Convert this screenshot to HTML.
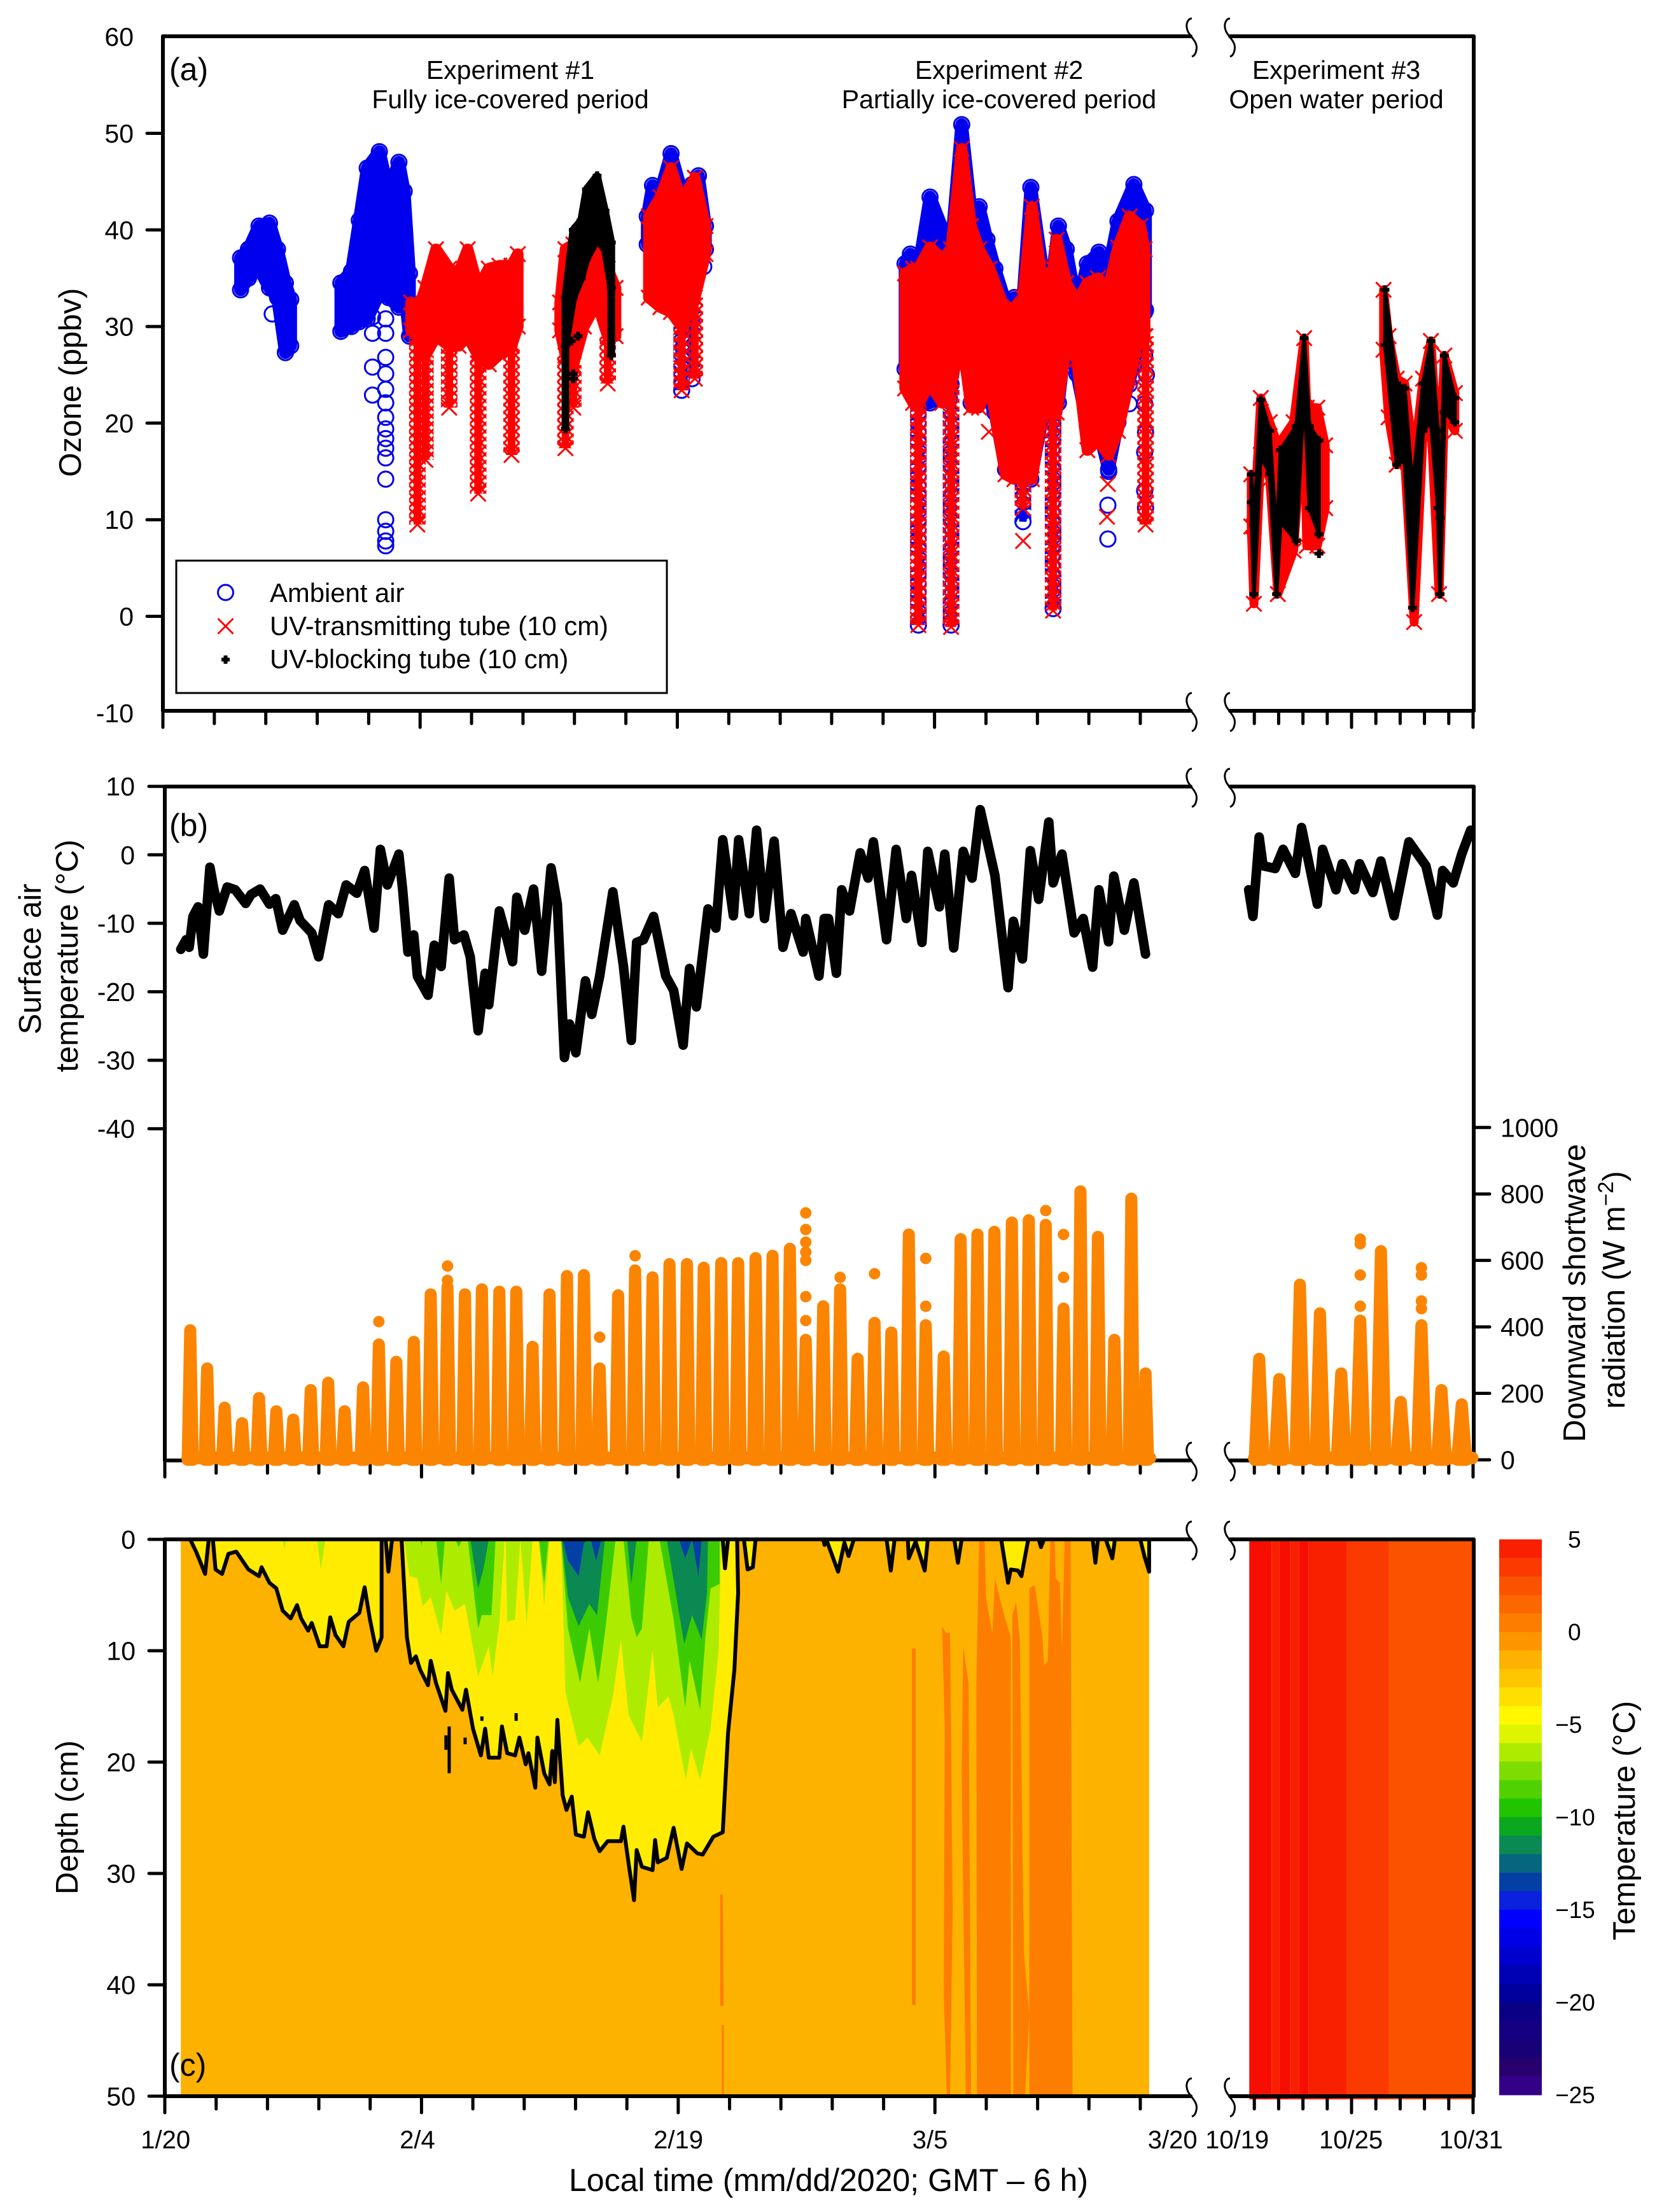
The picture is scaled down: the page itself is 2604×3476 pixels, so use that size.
<!DOCTYPE html>
<html lang="en">
<head>
<meta charset="utf-8">
<title>Ozone, air temperature, radiation and snow temperature</title>
<style>
  html,body{margin:0;padding:0;background:#fff;}
  svg{display:block;font-family:"Liberation Sans",Arial,sans-serif;}
  text{fill:#000;}
</style>
</head>
<body>
<svg id="chart" xmlns="http://www.w3.org/2000/svg" width="2604" height="3476" viewBox="0 0 2604 3476">
  <defs>
    <pattern id="hatch-red" patternUnits="userSpaceOnUse" width="12" height="12">
      <path d="M0 0L12 12M12 0L0 12" stroke="#f00" stroke-width="3.2" fill="none"/>
    </pattern>
    <pattern id="rings-blue" patternUnits="userSpaceOnUse" width="14" height="14">
      <circle cx="7" cy="7" r="6" stroke="#0000ee" stroke-width="3" fill="none"/>
    </pattern>
    <clipPath id="clip-main"><rect x="262" y="2419" width="1560" height="878"/></clipPath>
  </defs>

  <g id="panel-a-data"></g>
  <g id="panel-b-data"></g>
  <g id="panel-c-data"></g>
  <g id="colorbar"></g>
  <g id="axes"></g>
  <g id="panel-b-radiation"></g>

  <text x="266" y="126" font-size="50">(a)</text>
  <text x="266" y="1314" font-size="50">(b)</text>
  <text x="266" y="3262" font-size="50">(c)</text>

  <g font-size="41" text-anchor="middle">
    <text x="802" y="124">Experiment #1</text>
    <text x="802" y="170">Fully ice-covered period</text>
    <text x="1570" y="124">Experiment #2</text>
    <text x="1570" y="170">Partially ice-covered period</text>
    <text x="2100" y="124">Experiment #3</text>
    <text x="2100" y="170">Open water period</text>
  </g>

  <g>
    <rect x="277" y="881" width="771" height="208" fill="#fff" stroke="#000" stroke-width="3"/>
    <circle cx="354.5" cy="931" r="12" fill="none" stroke="#0000ee" stroke-width="3"/>
    <path d="M342.5 972L366.5 996M366.5 972L342.5 996" stroke="#f00" stroke-width="3" fill="none"/>
    <path d="M348 1036.500H361M354.500 1030V1043" stroke="#000" stroke-width="6" fill="none"/>
    <text x="424" y="946" font-size="41.8">Ambient air</text>
    <text x="424" y="998" font-size="41.8">UV-transmitting tube (10 cm)</text>
    <text x="424" y="1050" font-size="41.8">UV-blocking tube (10 cm)</text>
  </g>

  <g font-size="49" text-anchor="middle">
    <text transform="translate(127 601) rotate(-90)">Ozone (ppbv)</text>
    <text transform="translate(64 1507) rotate(-90)">Surface air</text>
    <text transform="translate(122 1502) rotate(-90)">temperature (°C)</text>
    <text transform="translate(2491 2032) rotate(-90)">Downward shortwave</text>
    <text transform="translate(2553 2027) rotate(-90)">radiation (W m<tspan font-size="34" dy="-18">−2</tspan><tspan dy="18">)</tspan></text>
    <text transform="translate(122 2856) rotate(-90)">Depth (cm)</text>
    <text transform="translate(2569 2861) rotate(-90)">Temperature (°C)</text>
    <text x="1302" y="3443" font-size="50">Local time (mm/dd/2020; GMT – 6 h)</text>
  </g>
</svg>

<script>
/* ---------- Panel (a): ozone, ppbv. Winter days count from 1/20; autumn days from 10/19. ---------- */
/* main body of each series: low and high reading per day */
const ambientDays=[4.48,4.94,5.56,6.17,6.64,7.1,7.41,10.34,10.96,11.42,11.88,12.59,13.12,13.73,14.04,14.35,28.24,28.55,29.01,29.63,30.25,30.86,31.23,31.64,43.3,43.61,44.08,44.76,45.62,45.99,46.61,47.16,47.63,48.09,48.55,49.17,49.69,50.19,50.65,51.33,51.95,52.26,52.72,53.34,53.95,54.63,55.19,55.74,56.67,57.35];
const ambientLow=[33.8,35,36,34,33,27.3,28,29.5,30,30.5,30.8,33.5,33,32,34,29,38.5,38,36,34,34,35,37,38,25.6,24.1,22,22.1,23.1,24,30,22.1,22.6,22.6,21.1,15.2,15.2,16,14.2,20.6,21,22.1,29,25.1,19.7,19.2,15.2,20.1,26.1,31.7];
const ambientHigh=[37.1,38,40.4,40.7,38,34.5,32.8,34.5,35.7,41,46.4,48.1,44,47,44,35.5,41.4,44.6,44,47.9,44,44.7,45.6,40.4,36.5,37.5,36,43.4,39.5,38,50.9,41.9,42.4,39,36,32.5,33,33,44.4,36,36,40.4,38,32,36.5,37.7,36,40.9,44.7,42];
/* deep, narrow ozone-depletion columns */
const ambientColumnDays=[30.25,30.86,44.08,45.99,50.19,51.95];
const ambientColumnLow=[23.4,24.6,-0.9,-0.9,9.8,0.8];
const ambientColumnHigh=[34,35,22,24,16,21];
const ambientStrayDays=[12.96,12.96,12.96,12.96,12.96,12.96,12.96,12.96,12.96,12.96,12.96,12.96,12.96,12.96,12.96,12.96,12.19,12.19,12.19,12.19,6.33,31.54,57.3,57.3,57.4,57.3,57.35,57.3,57.3,57.35,56.4,56.4,55.1,55.2,55.15,55.15,48.2,45.9];
const ambientStrayOzone=[7.3,7.8,8.8,10,14.2,16.4,17.4,18.4,19.4,20.6,22.1,23.5,25.1,26.8,29.3,30.8,22.9,25.8,29.3,31,31.3,36.2,31.5,27,25,22,19,17,13,11.2,24,22,17.5,15,11.5,8,23.5,22.5];

const transmittingDays=[14.44,14.81,15.28,15.9,16.67,17.22,17.75,18.36,18.98,19.6,20.31,20.68,23.15,23.46,23.92,24.54,25.31,25.93,26.39,28.33,29.01,29.63,30.25,31.02,31.64,43.3,43.77,44.08,44.76,45.47,45.99,46.61,47.16,47.63,48.24,49.17,49.69,50.19,50.71,51.33,51.95,52.16,52.72,53.34,53.95,54.57,55.19,55.74,56.42,57.04,57.3];
const transmittingLow=[29.6,29,27,29,28,28,29,27,26.1,27.1,28,30,29.6,27,26,30,32.5,29,29,33,32,31.5,30,33,37.5,23.6,22.1,22,24.1,22.1,24,29,21.6,21.6,24.1,14.7,14.2,16,14.2,21.1,21,21.1,28,26.6,17.2,18.2,16.7,19.2,24.6,30,29];
const transmittingHigh=[32.5,31.5,34,38,36,35.5,38,34,36,36.3,36.3,37.5,32.5,38,38.5,36,40.4,36,34,41.4,43.4,46.4,42.9,45.4,40.4,35.5,36,36,38.2,37,38,48.4,40.4,38,36,31.5,32,33,42.4,34.5,36,39,34.5,32.5,34.5,35,34,38.2,41.4,40.4,38];
const transmittingColumnDays=[14.81,15.28,16.67,18.36,20.31,23.46,23.92,25.93,30.25,31.02,44.08,45.99,50.19,51.95,57.35];
const transmittingColumnLow=[9.5,16.2,21.6,12.7,16.7,17.4,21.6,24.1,23.4,24.6,-0.9,-1.1,11.2,0.6,9.5];
const transmittingColumnHigh=[29,27,28,27,28,27,26,29,30,33,22,24,16,21,29];
const transmittingStrayDays=[50.2,48.2,55.1,55.15];
const transmittingStrayOzone=[7.8,19.1,10.3,13.7];

const blockingDays=[23.46,23.92,24.38,24.69,25.31,25.77,26.14];
const blockingLow=[28,33,35,37,39,38,34];
const blockingHigh=[33,40,41,44.2,45.6,42,38.7];
const blockingColumnDays=[23.46,26.14];
const blockingColumnLow=[19.4,27];
const blockingColumnHigh=[28,34];
const blockingStrayDays=[23.92,23.92,23.8,24.2];
const blockingStrayOzone=[24.6,25.1,28.5,29];

const autumnTransmittingDays=[1.05,1.18,1.52,1.96,2.36,3.14,3.66,3.79,4.31,4.7,7.58,7.83,8.23,8.62,9.09,9.53,9.92,10.32,10.58,11.1];
const autumnTransmittingLow=[9.3,1.3,16.7,14.2,2.3,6.8,21.6,7.3,7.3,11.2,27.6,20.6,15.7,16.2,-0.6,18.7,20.1,2.3,21.1,19.2];
const autumnTransmittingHigh=[14.7,9.3,22.6,20.1,17.7,20.1,28.8,21.6,21.6,17.7,33.8,29,24.6,24.1,16.2,24.6,28.5,15.2,27,23.1];

const autumnBlockingDays=[1.05,1.18,1.52,1.96,2.3,2.49,3.27,3.66,3.92,4.39,7.65,8.23,8.62,9.01,9.53,9.92,10.26,10.37,10.58,11.1];
const autumnBlockingLow=[11.8,2.3,16.7,14.7,2.3,9.8,7.8,23.6,11.2,8.5,28.1,15.7,16.2,0.9,19.2,20.1,11.2,2.3,21.1,20.1];
const autumnBlockingHigh=[14.7,9.5,22.4,19.2,7.8,17.2,19.7,28.8,19.7,18.2,33.8,24.1,23.6,13.2,24.1,28.5,19.2,10.2,27,22.6];
const autumnBlockingStrayDays=[4.39];
const autumnBlockingStrayOzone=[6.5];

const ozoneTickValues=[60,50,40,30,20,10,0,-10];

/* ---------- Panel (b): surface air temperature, degC ---------- */
const airDays=[0.99,1.3,1.48,1.7,2,2.31,2.69,2.93,3.24,3.7,4.17,4.78,5.09,5.62,6.17,6.54,6.94,7.62,7.96,8.64,9.04,9.63,10.19,10.65,11.27,11.73,12.28,12.65,13.06,13.73,13.95,14.26,14.6,14.81,15.43,15.8,16.2,16.67,16.98,17.53,17.9,18.36,18.77,18.98,19.6,20.06,20.37,20.62,21.08,21.6,22.07,22.62,22.99,23.4,23.7,24.07,24.63,25,25.46,26.23,26.85,27.31,27.62,28.02,28.61,29.32,29.78,30.34,30.71,31.11,31.79,32.25,32.65,33.27,33.58,34.2,34.63,35.09,35.65,36.17,36.64,37.35,37.5,38.27,38.58,38.83,39.29,39.6,40.06,40.68,41.14,41.45,42.22,42.78,43.37,43.68,44.29,44.63,45.31,45.62,46.14,46.7,47.22,47.69,48.55,49.32,49.63,50.16,50.62,51.11,51.7,51.95,52.47,53.18,53.71,54.26,54.63,55.19,55.5,56.11,56.67,57.35];
const airTemps=[-13.8,-12.4,-13.5,-9,-7.6,-14.5,-1.8,-5.1,-8.2,-4.7,-5.1,-7.1,-5.8,-5,-7.2,-6.4,-11,-7.3,-9.6,-11.4,-14.9,-7.3,-8.6,-4.4,-5.6,-2.3,-10.7,0.8,-4.4,0.1,-5.1,-14.2,-11.7,-17.7,-20.5,-13.2,-16.3,-3.4,-12.4,-11.7,-14.9,-25.7,-17.3,-21.9,-8.2,-12.4,-15.6,-6.2,-11,-5,-17,-1.9,-7.2,-29.6,-24.7,-28.9,-18.4,-23.3,-17.7,-5.4,-16.3,-27.1,-12.8,-12.4,-9,-17.7,-19.8,-27.8,-16.6,-22.2,-7.9,-10.7,2.2,-8.9,2.2,-8.6,3.6,-9.3,2,-13.5,-8.6,-14.2,-9.3,-17.7,-9.3,-9.3,-17.3,-5.1,-8.2,0.3,-3.4,1.9,-12.4,0.8,-9.3,-3,-12.8,0.5,-7.6,0.1,-13.6,0.5,-3.4,6.6,-3,-19.4,-9.7,-15.2,0.6,-6.5,4.8,-4.1,0.1,-11.4,-9.3,-16.4,-5.1,-12.7,-3.1,-11,-4.1,-14.5];
const autumnAirDays=[0.92,1.13,1.44,1.63,2.23,2.62,3.22,3.53,4.31,4.57,5.23,5.54,6.14,6.4,7.05,7.45,8.1,8.83,9.67,10.24,10.5,11.02,11.44,11.88];
const autumnAirTemps=[-5.1,-9,2.6,-1.6,-2,0.8,-2.7,4,-7.2,0.8,-5.1,-1.3,-5.1,-1.3,-5.5,-0.9,-8.9,1.9,-1.6,-8.8,-2.3,-4.1,0.1,3.6];
const airTickValues=[10,0,-10,-20,-30,-40];

/* ---------- Panel (b): downward shortwave radiation, W m-2 (daily peaks) ---------- */
const radiationDays=[1.54,2.53,3.55,4.57,5.56,6.57,7.56,8.58,9.6,10.56,11.64,12.56,13.58,14.6,15.59,16.57,17.59,18.58,19.6,20.59,21.54,22.53,23.55,24.54,25.46,26.54,27.53,28.55,29.54,30.56,31.54,32.56,33.55,34.57,35.56,36.57,37.5,38.52,39.51,40.53,41.52,42.5,43.52,44.51,45.56,46.55,47.53,48.52,49.54,50.53,51.52,52.56,53.55,54.57,55.53,56.52,57.35];
const radiationPeaks=[390,275,157,110,186,146,121,210,232,146,218,347,295,355,498,520,498,513,506,506,340,498,553,556,275,495,570,549,589,589,578,592,592,607,614,635,361,462,513,304,412,383,678,405,311,664,678,686,714,721,707,455,808,671,361,786,260];
const radiationStrayDays=[12.56,16.57,16.57,25.46,27.53,37.5,37.5,37.5,37.5,37.5,37.5,37.5,39.51,41.52,44.51,44.51,51.52,52.56,52.56];
const radiationStrayValues=[416,583,540,369,614,743,693,655,625,600,491,419,549,560,606,462,750,678,549];
const autumnRadiationDays=[1.44,2.43,3.45,4.44,5.49,6.43,7.45,8.43,9.45,10.44,11.44];
const autumnRadiationPeaks=[304,243,527,441,260,419,628,174,405,210,167];
const autumnRadiationStrayDays=[6.43,6.43,6.43,6.43,7.45,9.45,9.45,9.45,9.45];
const autumnRadiationStrayValues=[664,650,556,462,610,578,556,478,455];
const radiationTickValues=[1000,800,600,400,200,0];

/* ---------- Panel (c): temperature contours as [day, depth cm] outlines ---------- */
const frozenFront=[
  [[1.54,0],[1.91,1.2],[2.41,3.1],[2.62,0]],
  [[2.87,0.1],[3.02,2.7],[3.4,3.1],[3.77,1.3],[4.23,1.1],[4.94,2.7],[5.56,3.3],[5.71,2.5],[6.17,3.9],[6.57,4.4],[6.94,6.4],[7.41,7.1],[7.78,5.9],[8.02,7.1],[8.43,8.2],[8.64,7.5],[9.1,9.6],[9.51,9.6],[9.72,7],[10.03,8.6],[10.49,9.6],[10.8,7.4],[11.42,6.6],[11.73,4.3],[12.04,7.2],[12.41,10],[12.72,8.8],[12.72,0]],
  [[12.96,0],[13.12,2.9],[13.33,0]],
  [[13.89,0],[14.2,8.8],[14.44,11.1],[14.72,10.5],[14.97,11.7],[15.43,13.1],[15.59,10.9],[15.9,12.9],[16.45,15.4],[16.6,12],[16.82,13.5],[17.44,15.3],[17.65,13.5],[18.06,17],[18.52,19.4],[18.77,17],[18.98,19.6],[19.6,19.6],[19.75,16.8],[20.06,19.2],[20.52,19.4],[20.77,17.8],[21.14,20.2],[21.3,19.2],[21.7,22.3],[21.82,17.8],[22.22,21],[22.53,22],[22.69,19],[22.84,21.8],[22.99,16.2],[23.3,23],[23.52,24.3],[23.83,23.1],[24.07,26.5],[24.54,26.7],[24.78,24.5],[25.15,26.9],[25.46,28],[25.93,27.1],[26.7,27.1],[26.85,25.8],[27.16,29.2],[27.47,32.4],[27.62,27.9],[27.93,29.4],[28.55,29.7],[28.7,27],[28.86,29],[29.38,28.6],[29.78,25.9],[30.25,29.6],[30.56,27.3],[31.17,28.2],[31.48,28.3],[32.1,26.7],[32.65,26.3],[32.96,17.4],[33.33,11.7],[33.55,4.8],[33.49,0]],
  [[32.65,0],[32.78,2.6],[32.96,0]],
  [[33.89,0],[34.1,2.7],[34.41,2.5],[34.57,0]],
  [[38.52,0],[38.6,0.5],[38.7,0],[39.39,2.9],[39.76,0.3],[40,1.5],[40.31,0]],
  [[42.22,0],[42.47,2.8],[42.69,0]],
  [[43.46,0],[43.52,1.7],[43.92,0.2],[44.45,2.8],[44.63,0]],
  [[46.18,0],[46.39,2.1],[46.61,0]],
  [[48.92,0],[49.32,3.9],[49.48,2.7],[49.9,2.8],[50.1,3.3],[50.5,0]],
  [[51.11,0],[51.24,0.7],[51.42,0]],
  [[54.26,0],[54.42,2.1],[54.57,0]],
  [[55.03,0],[55.41,1.7],[55.56,0]],
  [[57.04,0],[57.3,1.6],[57.56,2.9],[57.56,0]]
];
const frontStrayDays=[16.67,16.48,17.6,18.58,20.58];
const frontStrayTop=[16.8,17.6,17.8,15.9,15.6];
const frontStrayBottom=[21,18.9,18.4,16.3,16.3];
const minusSixIsotherm=[
  [[6.94,0],[7.04,0.9],[7.16,0]],
  [[8.95,0],[9.17,2.7],[9.44,0]],
  [[14.04,0],[14.35,3.3],[14.81,3.5],[15.12,6],[15.59,5.2],[16.2,8.6],[16.51,4.6],[16.98,6.4],[17.59,5.8],[18.36,12.3],[18.98,9.6],[19.2,12.3],[19.6,7.6],[19.91,0]],
  [[19.97,0],[20.06,7.4],[20.52,7.2],[20.83,0]],
  [[20.83,0],[21.2,7.6],[21.54,0]],
  [[21.91,0],[22.22,6],[22.53,0]],
  [[23.21,0],[23.46,13.7],[24.23,18.6],[24.75,17.8],[25.46,19.4],[26.23,14.1],[26.7,9],[27.16,15.8],[27.93,18.2],[28.55,10],[28.86,15.1],[29.48,14.1],[29.78,15.8],[30.49,21.6],[30.8,18.8],[31.33,21.6],[31.94,17],[32.41,10],[32.56,0]]
];
const minusEightIsotherm=[
  [[14.97,0],[15.06,0.6],[15.12,0]],
  [[15.9,0],[16.2,4],[16.42,0]],
  [[17.04,0],[17.22,0.7],[17.44,0]],
  [[17.75,0],[18.36,8],[18.58,6.8],[19.14,6.8],[19.38,0]],
  [[21.91,0],[22.22,4],[22.47,0]],
  [[23.21,0],[23.61,8],[24.32,12.9],[24.85,8],[25.37,12.9],[25.77,8.4],[26.39,0]],
  [[26.85,0],[27.31,7],[27.62,8.8],[27.93,8],[28.33,0]],
  [[28.95,0],[29.78,7.2],[30.46,15.1],[30.71,10.9],[31.33,15.3],[31.64,8.8],[31.94,4.4],[32.47,4],[32.47,0]]
];
const minusElevenIsotherm=[
  [[17.9,0],[18.36,4.4],[18.67,2.7],[18.98,0]],
  [[23.24,0],[23.61,5.2],[24.23,7.8],[24.85,5.8],[25.31,6.8],[25.77,0]],
  [[27.07,0],[27.31,4],[27.62,0]],
  [[29.38,0],[30.4,9.4],[30.86,6.8],[31.42,9],[31.73,4.8],[31.79,0]]
];
const minusThirteenIsotherm=[
  [[23.3,0],[23.61,1.9],[24.23,3.3],[24.54,0.3],[24.94,0],[25.25,1.9],[25.56,0]],
  [[30.09,0],[30.46,1.7],[30.86,0]],
  [[30.86,0],[31.23,3.3],[31.42,0]]
];
const thawedPatches=[
  [[43.71,9.8],[43.92,9.8],[43.92,41.8],[43.71,41.8]],
  [[45.47,7.8],[45.68,8.4],[45.93,8.4],[46.08,33.2],[45.93,50],[45.74,50],[45.56,40.6],[45.62,17]],
  [[46.7,9.6],[47.01,12.9],[47.16,50],[46.85,50],[46.61,21]],
  [[47.63,0],[47.94,0],[48.03,5.2],[48.4,8.4],[48.55,3.5],[49.02,6.4],[49.48,8.8],[49.48,50],[47.5,50],[47.47,12.9]],
  [[49.57,6.8],[49.79,5.6],[50,8.8],[50.25,37.3],[50.56,42.6],[50.31,50],[49.63,50]],
  [[50.56,4.4],[50.87,4.1],[51.33,8.8],[51.42,11.3],[51.64,10.9],[51.79,0],[52.04,0],[52.1,3.5],[52.35,3.9],[52.47,10],[52.63,0],[52.97,0],[53.09,50],[50.56,50]],
  [[32.5,31.9],[32.65,31.9],[32.7,41.9],[32.5,41.9]],
  [[32.6,43.6],[32.72,43.6],[32.72,50],[32.6,50]]
];
const autumnBandEdges=[0.95,2.05,2.44,2.96,3.4,3.87,5.75,7.84,12];
const autumnBandTemps=[5.5,4.5,5.5,4.5,5.5,4.5,3.5,2.5];
const depthTickValues=[0,10,20,30,40,50];

/* ---------- Colour scale ---------- */
const scaleTemps=[4.5,3.5,2.5,1.5,0.5,-0.5,-1.5,-2.5,-3.5,-4.5,-5.5,-6.5,-7.5,-8.5,-9.5,-10.5,-11.5,-12.5,-13.5,-14.5,-15.5,-16.5,-17.5,-18.5,-19.5,-20.5,-21.5,-22.5,-23.5,-24.5];
const scaleColors=['#f92000','#fb3a00','#fb5200','#fd6700','#fd7d00','#fd9500','#fdb200','#fec600','#fedf00','#fff800','#dff500','#adec00','#7edd00','#50d200','#20c500','#0aa81e','#0a8a52','#05667e','#043fa6','#0a21dd','#0000ff','#0000e6','#0000cf','#0000b5','#00009c','#0a0086','#140080','#180078','#28006e','#350088'];
const scaleTickValues=[5,0,-5,-10,-15,-20,-25];

/* ---------- Time axes ---------- */
const mainTickDays=[0,3,6,9,12,15,18,21,24,27,30,33,36,39,42,45,48,51,54,57];
const mainMajorDays=[0,15,30,45];
const autumnTickDays=[1.2,2.4,3.6,4.8,6,7.2,8.4,9.6,10.8,12];
const autumnMajorDays=[6,12];
const timeLabels=['1/20','2/4','2/19','3/5','3/20'];
const timeLabelDays=[0.1,14.81,30.06,44.76,58.93];
const autumnTimeLabels=['10/19','10/25','10/31'];
const autumnTimeLabelDays=[0.35,5.97,11.9];

/* ---------- Axis functions ---------- */
const xMain=d=>257.5+26.9*d;
const xAutumn=d=>1933+31.83*d;
const yOzone=v=>968.5-15.18*v;
const yAir=v=>1343.3-10.76*v;
const yRad=v=>2294-0.5222*v;
const yDepth=v=>2419+17.5*v;
const yScale=v=>2419+(5-v)*29.1;

const NS='http://www.w3.org/2000/svg';
function make(tag,attrs,parent){
  const node=document.createElementNS(NS,tag);
  for(const key in attrs){node.setAttribute(key,attrs[key]);}
  parent.appendChild(node);
  return node;
}
function tempColor(t){
  if(t>=5){return '#f70e00';}
  let best=0;
  for(let i=0;i<scaleTemps.length;i++){
    if(Math.abs(scaleTemps[i]-t)<Math.abs(scaleTemps[best]-t)){best=i;}
  }
  return scaleColors[best];
}
const panelA=document.getElementById('panel-a-data');
const panelB=document.getElementById('panel-b-data');
const radiationLayer=document.getElementById('panel-b-radiation');
const panelC=document.getElementById('panel-c-data');
const colorbar=document.getElementById('colorbar');
const axes=document.getElementById('axes');

/* markers */
function ringMark(x,y,parent){
  const ring=make('circle',{cx:x,cy:y,r:12,fill:'none',stroke:'#0000ee','stroke-width':3},parent);
  
  
}
function crossMark(x,y,parent){
  const cross=make('path',{d:`M${x-12} ${y-12}L${x+12} ${y+12}M${x+12} ${y-12}L${x-12} ${y+12}`,fill:'none',stroke:'#f00','stroke-width':3},parent);
  
  
}
function plusMark(x,y,parent){
  const plus=make('path',{d:`M${x-7} ${y}H${x+7}M${x} ${y-7}V${y+7}`,fill:'none',stroke:'#000','stroke-width':6},parent);
  
  
}

/* solid body: low and high readings joined within each contiguous run of days */
function drawBody(days,low,high,xFn,color,width,markFn){
  let run=[];
  const flush=()=>{
    if(!run.length){return;}
    const upper=run.map(i=>xFn(days[i]).toFixed(1)+','+yOzone(high[i]).toFixed(1));
    const lower=run.slice().reverse().map(i=>xFn(days[i]).toFixed(1)+','+yOzone(low[i]).toFixed(1));
    const body=make('polygon',{points:upper.concat(lower).join(' '),fill:color,stroke:color,'stroke-width':width,'stroke-linejoin':'round'},panelA);
    
    
    run=[];
  };
  days.forEach((d,i)=>{
    if(run.length && d-days[run[run.length-1]]>1){flush();}
    run.push(i);
    markFn(xFn(d),yOzone(high[i]),panelA);
    markFn(xFn(d),yOzone(low[i]),panelA);
  });
  flush();
}
/* narrow column spanning a low and high reading */
function drawColumns(days,low,high,xFn,color,halo,markFn){
  days.forEach((d,i)=>{
    const x=xFn(d),top=yOzone(high[i]),bottom=yOzone(low[i]);
    if(halo){
      const fringe=make('rect',{x:x-13,y:top,width:26,height:bottom-top,fill:halo},panelA);
      
      
    }
    const core=make('rect',{x:x-6,y:top,width:12,height:bottom-top,fill:color},panelA);
    
    
    markFn(x,top,panelA);
    markFn(x,bottom,panelA);
  });
}
drawBody(ambientDays,ambientLow,ambientHigh,xMain,'#0000ee',20,ringMark);
drawColumns(ambientColumnDays,ambientColumnLow,ambientColumnHigh,xMain,'#0000ee','url(#rings-blue)',ringMark);
ambientStrayDays.forEach((d,i)=>ringMark(xMain(d),yOzone(ambientStrayOzone[i]),panelA));
drawBody(transmittingDays,transmittingLow,transmittingHigh,xMain,'#f00',18,crossMark);
drawColumns(transmittingColumnDays,transmittingColumnLow,transmittingColumnHigh,xMain,'#f00','url(#hatch-red)',crossMark);
transmittingStrayDays.forEach((d,i)=>crossMark(xMain(d),yOzone(transmittingStrayOzone[i]),panelA));
drawBody(blockingDays,blockingLow,blockingHigh,xMain,'#000',12,plusMark);
drawColumns(blockingColumnDays,blockingColumnLow,blockingColumnHigh,xMain,'#000',null,plusMark);
blockingStrayDays.forEach((d,i)=>plusMark(xMain(d),yOzone(blockingStrayOzone[i]),panelA));
drawBody(autumnTransmittingDays,autumnTransmittingLow,autumnTransmittingHigh,xAutumn,'#f00',14,crossMark);
drawBody(autumnBlockingDays,autumnBlockingLow,autumnBlockingHigh,xAutumn,'#000',6,plusMark);
autumnBlockingStrayDays.forEach((d,i)=>plusMark(xAutumn(d),yOzone(autumnBlockingStrayOzone[i]),panelA));

/* air temperature traces */
function tracePoints(days,vals,xFn,yFn){
  return days.map((d,i)=>xFn(d).toFixed(1)+','+yFn(vals[i]).toFixed(1)).join(' ');
}
const airLine=make('polyline',{points:tracePoints(airDays,airTemps,xMain,yAir),fill:'none',stroke:'#000','stroke-width':15,'stroke-linejoin':'round','stroke-linecap':'round'},panelB);


const autumnAirLine=make('polyline',{points:tracePoints(autumnAirDays,autumnAirTemps,xAutumn,yAir),fill:'none',stroke:'#000','stroke-width':15,'stroke-linejoin':'round','stroke-linecap':'round'},panelB);



/* radiation */
const orange='#fb8500';
function drawRadiation(days,peaks,xFn,spread,strayDays,strayVals,startDay,endDay){
  const night=make('line',{x1:xFn(startDay),x2:xFn(endDay),y1:yRad(0)-3,y2:yRad(0)-3,stroke:orange,'stroke-width':20,'stroke-linecap':'round'},radiationLayer);
  
  
  days.forEach((d,i)=>{
    const x=xFn(d),top=yRad(peaks[i]),base=yRad(0);
    const column=make('path',{d:`M${x-spread} ${base}L${x} ${top}L${x+spread} ${base}Z`,fill:orange,stroke:orange,'stroke-width':19,'stroke-linejoin':'round'},radiationLayer);
    
    
  });
  strayDays.forEach((d,i)=>{
    const dot=make('circle',{cx:xFn(d),cy:yRad(strayVals[i]),r:9,fill:orange},radiationLayer);
    
    
  });
}
drawRadiation(radiationDays,radiationPeaks,xMain,4,radiationStrayDays,radiationStrayValues,1.4,57.6);
drawRadiation(autumnRadiationDays,autumnRadiationPeaks,xAutumn,7,autumnRadiationStrayDays,autumnRadiationStrayValues,1.2,11.95);

/* panel (c) fills */
const clipped=make('g',{'clip-path':'url(#clip-main)'},panelC);


const baseField=make('rect',{x:xMain(0.99),y:yDepth(0),width:xMain(57.56)-xMain(0.99),height:yDepth(50)-yDepth(0),fill:tempColor(-1.5)},clipped);


function drawPatches(patches,color){
  patches.forEach(p=>{
    const patch=make('polygon',{points:p.map(v=>xMain(v[0]).toFixed(1)+','+yDepth(v[1]).toFixed(1)).join(' '),fill:color},clipped);
    
    
  });
}
drawPatches(thawedPatches,tempColor(0.5));
drawPatches(frozenFront,'#ffec00');
drawPatches(minusSixIsotherm,tempColor(-6.5));
drawPatches(minusEightIsotherm,'#3ccb00');
drawPatches(minusElevenIsotherm,tempColor(-11.5));
drawPatches(minusThirteenIsotherm,tempColor(-13.5));
frozenFront.forEach(p=>{
  const front=make('polyline',{points:p.map(v=>xMain(v[0]).toFixed(1)+','+yDepth(v[1]).toFixed(1)).join(' '),fill:'none',stroke:'#000','stroke-width':6,'stroke-linejoin':'round'},clipped);
  
  
});
frontStrayDays.forEach((d,i)=>{
  const bit=make('line',{x1:xMain(d),x2:xMain(d),y1:yDepth(frontStrayTop[i]),y2:yDepth(frontStrayBottom[i]),stroke:'#000','stroke-width':5},clipped);
  
  
});
autumnBandTemps.forEach((t,i)=>{
  const band=make('rect',{x:xAutumn(autumnBandEdges[i]),y:yDepth(0),width:xAutumn(autumnBandEdges[i+1])-xAutumn(autumnBandEdges[i]),height:yDepth(50)-yDepth(0)+5,fill:tempColor(t)},panelC);
  
  
});

/* colour bar */
scaleTemps.forEach((t,i)=>{
  const swatch=make('rect',{x:2356,y:yScale(t+0.5),width:67,height:yScale(t-0.5)-yScale(t+0.5)+0.5,fill:scaleColors[i]},colorbar);
  
  
});
scaleTickValues.forEach(v=>{
  const label=make('text',{x:v<0?2444:2464,y:yScale(v)+13,'font-size':37},colorbar);
  
  
  label.textContent=v<0?'\u2212'+Math.abs(v):String(v);
});

/* frames and axes */
const frameLeft=[256,259,259];
const frameTop=[57,1236,2419];
const frameBottom=[1117,2295,3294];
const frameRight=2316;
const breakLeft=1873;
const breakRight=1933;
const breakShape='m0 -28c-6 0-9 8-8 14c1 8 5 11 9 17c4 5 8 11 6 19c-1 6-4 9-7 10';
function axisLine(x1,y1,x2,y2,name,width){
  const line=make('line',{x1:x1,y1:y1,x2:x2,y2:y2,stroke:'#000','stroke-width':width,'stroke-linecap':'round'},axes);
  
  
}
frameTop.forEach((top,p)=>{
  const bottom=frameBottom[p],left=frameLeft[p];
  axisLine(left,top,left,bottom,'left-axis-line',6);
  axisLine(frameRight,top,frameRight,bottom,'right-axis-line',6);
  [top,bottom].forEach(y=>{
    axisLine(left,y,breakLeft-2,y,'horizontal-axis-line',6);
    axisLine(breakRight,y,frameRight,y,'horizontal-axis-line',6);
    [breakLeft,breakRight].forEach(bx=>{
      const mark=make('path',{d:`M${bx} ${y}`+breakShape,fill:'none',stroke:'#000','stroke-width':3},axes);
      
      
    });
  });
  const mainTick=d=>left+(1792-left)*d/57;
  mainTickDays.forEach(d=>{
    axisLine(mainTick(d),bottom,mainTick(d),bottom+(mainMajorDays.includes(d)?26:20),'time-axis-tick',5);
  });
  autumnTickDays.forEach(d=>{
    axisLine(xAutumn(d),bottom,xAutumn(d),bottom+(autumnMajorDays.includes(d)?26:20),'time-axis-tick',5);
  });
});
function yTicks(values,yFn,left,skip,textRight,name){
  values.forEach(v=>{
    if(!skip.includes(v)){axisLine(left-25,yFn(v),left,yFn(v),name+'-tick',5);}
    const label=make('text',{x:textRight,y:yFn(v)+14.5,'text-anchor':'end','font-size':41},axes);
    
    
    label.textContent=String(v);
  });
}
yTicks(ozoneTickValues,yOzone,256,[60,-10],210,'ozone-axis');
yTicks(airTickValues,yAir,259,[],212,'air-temperature-axis');
yTicks(depthTickValues,yDepth,259,[],213,'depth-axis');
radiationTickValues.forEach(v=>{
  axisLine(frameRight,yRad(v),frameRight+25,yRad(v),'radiation-axis-tick',5);
  const label=make('text',{x:2358,y:yRad(v)+14.5,'font-size':41},axes);
  
  
  label.textContent=String(v);
});
timeLabels.forEach((t,i)=>{
  const label=make('text',{x:xMain(timeLabelDays[i]),y:3376,'text-anchor':'middle','font-size':40},axes);
  
  
  label.textContent=t;
});
autumnTimeLabels.forEach((t,i)=>{
  const label=make('text',{x:xAutumn(autumnTimeLabelDays[i]),y:3376,'text-anchor':'middle','font-size':40},axes);
  
  
  label.textContent=t;
});
</script>
</body>
</html>
